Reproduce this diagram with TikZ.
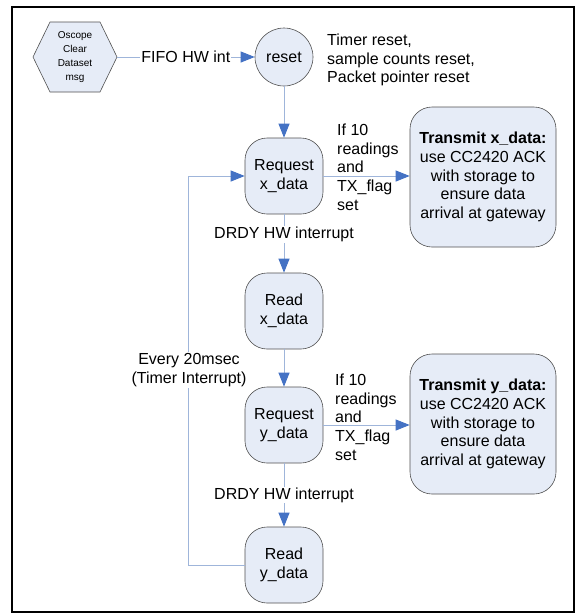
\documentclass[tikz,border=0pt]{standalone}
\usepackage{fontspec}
\setmainfont{Liberation Sans}
\usetikzlibrary{arrows.meta,calc}
\definecolor{boxfill}{HTML}{E6ECF7}
\definecolor{boxline}{HTML}{505050}
\definecolor{connc}{HTML}{9FB5DA}
\definecolor{tipblue}{HTML}{4472C4}
\begin{document}
\begin{tikzpicture}[x=1pt,y=-1pt,
  font=\fontsize{16}{18.7}\selectfont,
  stepbox/.style={draw=boxline, fill=boxfill, rounded corners=22pt, minimum width=78pt, minimum height=76pt, align=center, line width=0.6pt, inner sep=1pt},
  bigbox/.style={stepbox, minimum width=146pt, minimum height=140pt, font=\fontsize{16}{18.7}\selectfont},
  conn/.style={draw=connc, line width=0.9pt, -{Triangle[length=14pt,width=11pt,color=tipblue]}},
  lbl/.style={fill=white, inner sep=1pt, align=center},
  note/.style={align=left, inner sep=0pt}
]
\useasboundingbox (0,0) rectangle (578,614);
\draw[line width=2pt] (12,7) rectangle (574,612);

% hexagon
\coordinate (hc) at (75,57);
\filldraw[draw=boxline, fill=boxfill, line width=0.6pt]
  ($(hc)+(-42,0)$) -- ($(hc)+(-25,-35)$) -- ($(hc)+(25,-35)$) -- ($(hc)+(42,0)$)
  -- ($(hc)+(25,35)$) -- ($(hc)+(-25,35)$) -- cycle;
\node[align=center, inner sep=0pt, font=\fontsize{10}{14}\selectfont] (hex) at (hc) {Oscope\\Clear\\Dataset\\msg};
\coordinate (hexE) at ($(hc)+(42,0)$);

\node[circle, draw=boxline, fill=boxfill, line width=0.6pt, minimum size=58pt, inner sep=0pt] (reset) at (284,57) {reset};
\node[note, anchor=west] (timer) at (327,60) {Timer reset,\\sample counts reset,\\Packet pointer reset};

\node[stepbox] (reqx) at (284,176) {Request\\x\_data};
\node[stepbox] (readx) at (284,311) {Read\\x\_data};
\node[stepbox] (reqy) at (284,425) {Request\\y\_data};
\node[stepbox] (ready) at (284,565) {Read\\y\_data};

\node[bigbox] (tx) at (483,177) {\textbf{Transmit x\_data:}\\use CC2420 ACK\\with storage to\\ensure data\\arrival at gateway};
\node[bigbox] (ty) at (483,424) {\textbf{Transmit y\_data:}\\use CC2420 ACK\\with storage to\\ensure data\\arrival at gateway};

\draw[conn] (hexE) -- node[lbl] (fifo) {FIFO HW int} (reset);
\draw[conn] (reset) -- (reqx);
\draw[conn] (reqx) -- node[lbl, pos=0.35] (drdy1) {DRDY HW interrupt} (readx);
\draw[conn] (readx) -- (reqy);
\draw[conn] (reqy) -- node[lbl] (drdy2) {DRDY HW interrupt} (ready);

\draw[conn] (reqx.east) -- (reqx.east -| tx.west);
\draw[conn] (reqy.east) -- (reqy.east -| ty.west);
\node[note, anchor=west] (cond1) at (337,167) {If 10\\readings\\and\\TX\_flag\\set};
\node[note, anchor=west] (cond2) at (335,417) {If 10\\readings\\and\\TX\_flag\\set};

\coordinate (lp) at (188,565);
\draw[conn] (ready.west) -- (lp) |- (reqx.west);
\node[lbl] (every) at (189,370) {Every 20msec\\(Timer Interrupt)};
\end{tikzpicture}
\end{document}
